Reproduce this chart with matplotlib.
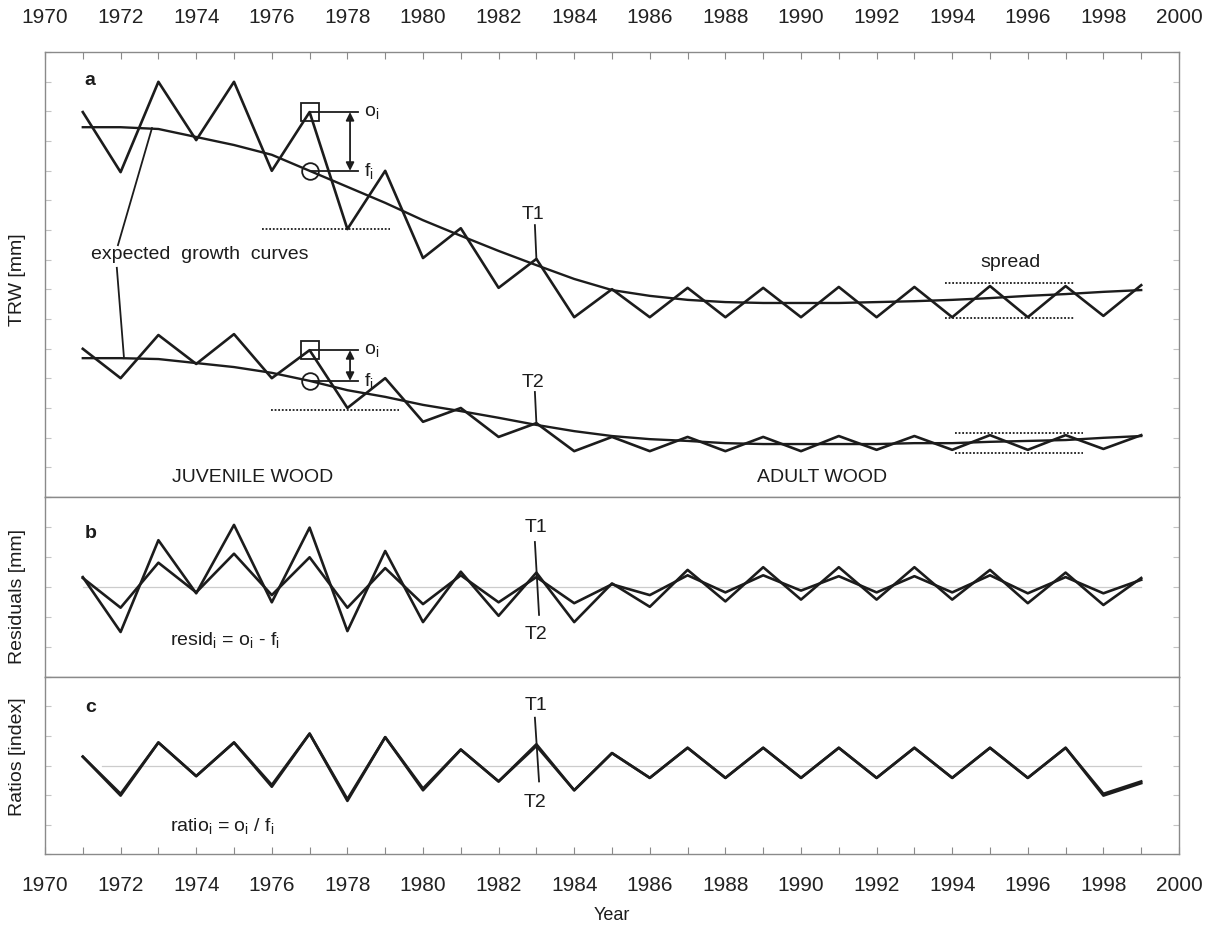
import numpy as np
import matplotlib.pyplot as plt
from matplotlib.ticker import MultipleLocator

plt.rcParams['font.family'] = ['Liberation Sans', 'DejaVu Sans']
plt.rcParams['mathtext.fontset'] = 'custom'
plt.rcParams['mathtext.rm'] = 'Liberation Sans'
plt.rcParams['mathtext.it'] = 'Liberation Sans:italic'

# ---------------- data ----------------
years = np.arange(1971, 2000)

# panel a - observed ring widths and expected growth curves
obs_upper = [8.65, 7.30, 9.33, 8.02, 9.33, 7.33, 8.65, 6.02, 7.33, 5.37,
             6.04, 4.70, 5.35, 4.04, 4.67, 4.04, 4.70, 4.04, 4.70, 4.04,
             4.72, 4.04, 4.72, 4.04, 4.74, 4.04, 4.74, 4.07, 4.76]
fit_upper = [8.31, 8.31, 8.27, 8.09, 7.91, 7.69, 7.33, 6.97, 6.61, 6.22,
             5.87, 5.53, 5.21, 4.90, 4.65, 4.52, 4.43, 4.38, 4.36, 4.36,
             4.36, 4.38, 4.40, 4.43, 4.47, 4.52, 4.56, 4.61, 4.65]
obs_lower = [3.33, 2.67, 3.64, 2.99, 3.66, 2.67, 3.30, 2.00, 2.67, 1.69,
             2.00, 1.35, 1.66, 1.03, 1.35, 1.03, 1.35, 1.03, 1.35, 1.03,
             1.37, 1.06, 1.37, 1.06, 1.39, 1.06, 1.39, 1.08, 1.39]
fit_lower = [3.12, 3.12, 3.10, 3.01, 2.92, 2.79, 2.61, 2.40, 2.25, 2.07,
             1.93, 1.78, 1.62, 1.48, 1.37, 1.30, 1.26, 1.21, 1.19, 1.19,
             1.19, 1.19, 1.21, 1.21, 1.24, 1.26, 1.28, 1.33, 1.37]

# panel b - residuals
resid_upper = [0.11, -0.50, 0.52, -0.07, 0.69, -0.17, 0.66, -0.49, 0.40, -0.39,
               0.17, -0.32, 0.16, -0.39, 0.04, -0.22, 0.19, -0.16, 0.22, -0.14,
               0.22, -0.14, 0.22, -0.14, 0.19, -0.18, 0.16, -0.20, 0.10]
resid_lower = [0.10, -0.23, 0.27, -0.06, 0.37, -0.09, 0.33, -0.23, 0.21, -0.19,
               0.13, -0.17, 0.11, -0.18, 0.03, -0.09, 0.13, -0.06, 0.13, -0.04,
               0.12, -0.06, 0.12, -0.06, 0.13, -0.07, 0.11, -0.07, 0.08]

# panel c - ratios
ratio_upper = [1.05, 0.83, 1.13, 0.94, 1.13, 0.88, 1.18, 0.81, 1.16, 0.87,
               1.09, 0.91, 1.12, 0.86, 1.07, 0.93, 1.10, 0.93, 1.10, 0.93,
               1.10, 0.93, 1.10, 0.93, 1.10, 0.93, 1.10, 0.84, 0.91]
ratio_lower = [1.05, 0.84, 1.13, 0.94, 1.13, 0.89, 1.18, 0.80, 1.16, 0.86,
               1.09, 0.91, 1.11, 0.86, 1.07, 0.93, 1.10, 0.93, 1.10, 0.93,
               1.10, 0.93, 1.10, 0.93, 1.10, 0.93, 1.10, 0.83, 0.90]

top_labels = [str(y) for y in range(1970, 2001, 2)]

# ---------------- layout ----------------
W, H = 1221, 927
fig = plt.figure(figsize=(W / 100, H / 100), dpi=100)
L, R = 45 / W, 1179 / W


def fy(px):
    return 1 - px / H


ax_a = fig.add_axes([L, fy(497), R - L, fy(52) - fy(497)])
ax_b = fig.add_axes([L, fy(677), R - L, fy(497) - fy(677)])
ax_c = fig.add_axes([L, fy(854), R - L, fy(677) - fy(854)])

ink = '#1c1c1c'
box = '#8a8a8a'

for ax in (ax_a, ax_b, ax_c):
    ax.set_xlim(1970, 2000)
    for s in ax.spines.values():
        s.set_color(box)
        s.set_linewidth(1.0)
    ax.xaxis.set_major_locator(MultipleLocator(2))
    ax.xaxis.set_minor_locator(MultipleLocator(1))
    ax.tick_params(axis='x', which='both', direction='in', length=5,
                   color=box, width=0.8, labelsize=15, labelcolor='#222222')
    # faint unlabeled y ticks on both sides
    ax.tick_params(axis='y', which='both', direction='in', length=4,
                   color='#c4c4c4', width=0.8, left=True, right=True,
                   labelleft=False, labelright=False)
    ax.tick_params(axis='x', which='both', top=False, bottom=False,
                   labeltop=False, labelbottom=False)

ax_a.set_ylim(0, 10)
ax_b.set_ylim(-1, 1)
ax_c.set_ylim(0.5, 1.5)
ax_a.yaxis.set_major_locator(MultipleLocator(2 / 3))
ax_b.yaxis.set_major_locator(MultipleLocator(1 / 3))
ax_c.yaxis.set_major_locator(MultipleLocator(1 / 6))

ax_a.tick_params(axis='x', which='both', top=True, labeltop=True, pad=18)
ax_c.tick_params(axis='x', which='both', bottom=True, labelbottom=True, pad=16)
ax_a.set_xticks(range(1970, 2001, 2))
ax_a.set_xticklabels(top_labels)

lw = 1.9

# ---------------- panel a ----------------
ax_a.plot(years, obs_upper, color=ink, lw=lw)
ax_a.plot(years, fit_upper, color=ink, lw=1.7)
ax_a.plot(years, obs_lower, color=ink, lw=lw)
ax_a.plot(years, fit_lower, color=ink, lw=1.7)

i77 = list(years).index(1977)
for o, f in ((obs_upper[i77], fit_upper[i77]), (obs_lower[i77], fit_lower[i77])):
    ax_a.plot(1977, o, marker='s', ms=13, mfc='none', mec=ink, mew=1.3)
    ax_a.plot(1977, f, marker='o', ms=12, mfc='none', mec=ink, mew=1.3)
    ax_a.plot([1977, 1978.28], [o, o], color=ink, lw=1.3)
    ax_a.plot([1977, 1978.28], [f, f], color=ink, lw=1.3)
    ax_a.annotate('', xy=(1978.07, f), xytext=(1978.07, o),
                  arrowprops=dict(arrowstyle='<|-|>', color=ink, lw=1.3,
                                  shrinkA=0, shrinkB=0, mutation_scale=12))
    ax_a.text(1978.45, o, r'o$_{\rm i}$', fontsize=14, va='center', color=ink)
    ax_a.text(1978.45, f, r'f$_{\rm i}$', fontsize=14, va='center', color=ink)

i78 = list(years).index(1978)
ax_a.plot([1975.74, 1979.13], [obs_upper[i78]] * 2, color=ink, lw=1.3, ls=(0, (1, 1)))
ax_a.plot([1975.98, 1979.37], [obs_lower[i78] - 0.05] * 2, color=ink, lw=1.3, ls=(0, (1, 1)))

# spread
ax_a.plot([1993.81, 1997.22], [4.81, 4.81], color=ink, lw=1.3, ls=(0, (1, 1)))
ax_a.plot([1993.81, 1997.22], [4.02, 4.02], color=ink, lw=1.3, ls=(0, (1, 1)))
ax_a.plot([1994.07, 1997.46], [1.44, 1.44], color=ink, lw=1.3, ls=(0, (1, 1)))
ax_a.plot([1994.07, 1997.46], [0.99, 0.99], color=ink, lw=1.3, ls=(0, (1, 1)))
ax_a.text(1995.53, 5.26, 'spread', fontsize=14, ha='center', va='center', color=ink)

# expected growth curves
ax_a.text(1974.1, 5.44, 'expected  growth  curves', fontsize=14,
          ha='center', va='center', color=ink)
ax_a.plot([1971.93, 1972.83], [5.66, 8.29], color=ink, lw=1.3)
ax_a.plot([1971.90, 1972.09], [5.15, 3.12], color=ink, lw=1.3)

# T1 / T2
ax_a.text(1982.9, 6.34, 'T1', fontsize=14, ha='center', va='center', color=ink)
ax_a.plot([1982.96, 1983.0], [6.11, 5.35], color=ink, lw=1.3)
ax_a.text(1982.9, 2.58, 'T2', fontsize=14, ha='center', va='center', color=ink)
ax_a.plot([1982.96, 1983.0], [2.36, 1.66], color=ink, lw=1.3)

ax_a.text(1975.48, 0.43, 'JUVENILE WOOD', fontsize=14, ha='center', va='center', color=ink)
ax_a.text(1990.56, 0.43, 'ADULT WOOD', fontsize=14, ha='center', va='center', color=ink)
ax_a.text(1971.19, 9.37, 'a', fontsize=14, fontweight='bold', ha='center', va='center', color=ink)

# ---------------- panel b ----------------
ax_b.plot([1971, 1999], [0, 0], color='#cccccc', lw=0.9)
ax_b.plot(years, resid_upper, color=ink, lw=lw)
ax_b.plot(years, resid_lower, color=ink, lw=lw)
ax_b.text(1971.22, 0.6, 'b', fontsize=14, fontweight='bold', ha='center', va='center', color=ink)
ax_b.text(1983.0, 0.66, 'T1', fontsize=14, ha='center', va='center', color=ink)
ax_b.plot([1982.96, 1983.07], [0.50, -0.31], color=ink, lw=1.3)
ax_b.text(1983.0, -0.53, 'T2', fontsize=14, ha='center', va='center', color=ink)
ax_b.text(1973.31, -0.59, r'resid$_{\rm i}$ = o$_{\rm i}$ - f$_{\rm i}$',
          fontsize=14, va='center', color=ink)

# ---------------- panel c ----------------
ax_c.plot([1971.5, 1999], [1, 1], color='#cccccc', lw=0.9)
ax_c.plot(years, ratio_upper, color=ink, lw=lw)
ax_c.plot(years, ratio_lower, color=ink, lw=lw)
ax_c.text(1971.22, 1.33, 'c', fontsize=14, fontweight='bold', ha='center', va='center', color=ink)
ax_c.text(1983.0, 1.34, 'T1', fontsize=14, ha='center', va='center', color=ink)
ax_c.plot([1982.96, 1983.07], [1.27, 0.91], color=ink, lw=1.3)
ax_c.text(1982.95, 0.79, 'T2', fontsize=14, ha='center', va='center', color=ink)
ax_c.text(1973.31, 0.66, r'ratio$_{\rm i}$ = o$_{\rm i}$ / f$_{\rm i}$',
          fontsize=14, va='center', color=ink)

# axis titles
fig.text(18 / W, fy(280), 'TRW [mm]', rotation=90, fontsize=14, ha='center', va='center', color=ink)
fig.text(18 / W, fy(596), 'Residuals [mm]', rotation=90, fontsize=14, ha='center', va='center', color=ink)
fig.text(18 / W, fy(757), 'Ratios [index]', rotation=90, fontsize=14, ha='center', va='center', color=ink)
fig.text(612 / W, fy(916), 'Year', fontsize=13, ha='center', va='center', color=ink)

fig.savefig('out.png', dpi=100)
